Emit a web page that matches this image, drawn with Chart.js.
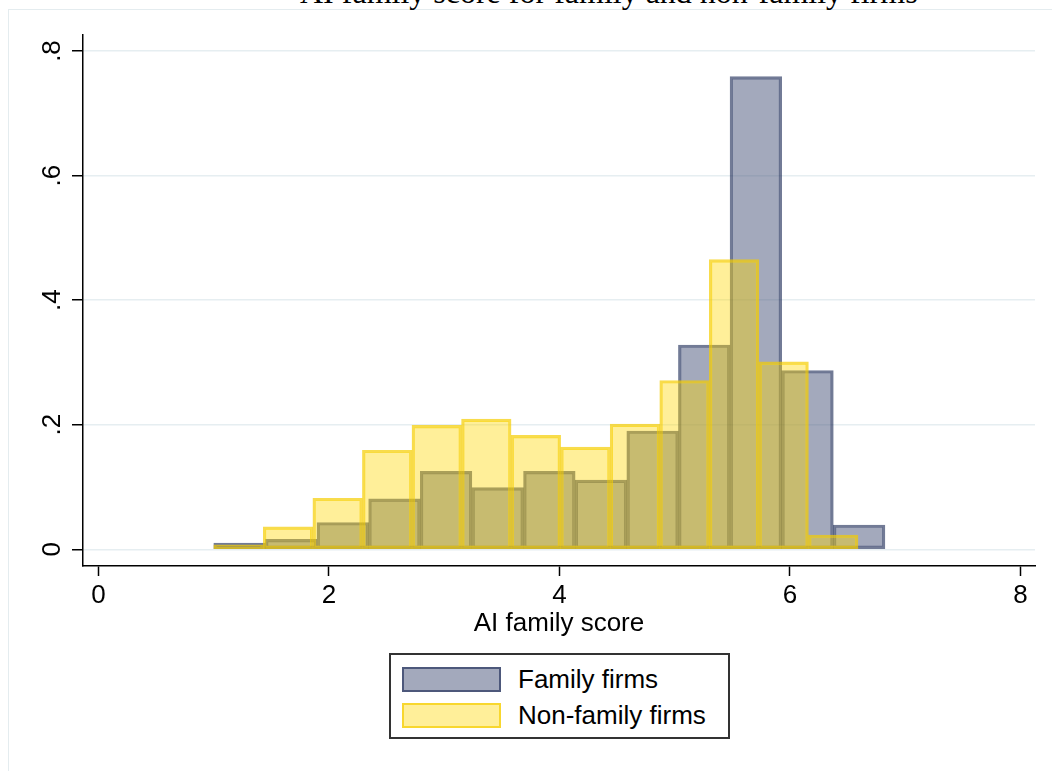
<!DOCTYPE html>
<html>
<head>
<meta charset="utf-8">
<script src="https://cdn.jsdelivr.net/npm/chart.js@4.4.1/dist/chart.umd.min.js"></script>
<style>
  html, body { margin: 0; padding: 0; background: #fff; overflow: hidden; }
  #wrap { position: relative; width: 1052px; height: 771px; overflow: hidden; }
  #frame { position: absolute; left: 8px; top: 9px; width: 1100px; height: 800px;
    border-left: 1px solid #e4ecef; border-top: 1px solid #e4ecef; }
  #title { position: absolute; left: 300px; top: -24px; width: 614px; text-align: center;
    font: 32px/32px "Liberation Serif", "Times New Roman", serif; color: #000; white-space: nowrap; }
  #legend { position: absolute; left: 389px; top: 653px; width: 337px; height: 82px;
    border: 2px solid #333; background: #fff; }
  .item { position: absolute; left: 11px; height: 26px; display: flex; align-items: center;
    font: 26px "Liberation Sans", Arial, sans-serif; color: #000; }
  .sw { width: 95px; height: 21px; border-width: 2.5px; border-style: solid; margin-right: 17px; }
  canvas { position: absolute; left: 0; top: 0; }
</style>
</head>
<body>
<div id="wrap">
  <div id="frame"></div>
  <div id="title">AI family score for family and non-family firms</div>
  <canvas id="hist" width="1052" height="771"></canvas>
  <div id="legend"></div>
</div>
<script>
// Histogram densities (13 bins each)
const familyStart = 1.0;
const familyWidth = 0.448;
const familyDensity = [0.010, 0.016, 0.043, 0.081, 0.125, 0.099, 0.125, 0.111, 0.190, 0.328, 0.759, 0.287, 0.039];

const nonFamilyStart = 1.0;
const nonFamilyWidth = 0.43;
const nonFamilyDensity = [0.007, 0.036, 0.082, 0.159, 0.199, 0.209, 0.183, 0.164, 0.201, 0.271, 0.465, 0.301, 0.023];

const xTicks = [0, 2, 4, 6, 8];
const yTicks = [0, 0.2, 0.4, 0.6, 0.8];
const yTickLabels = ["0", ".2", ".4", ".6", ".8"];

const seriesLabels = ["Family firms", "Non-family firms"];
const fills = ["rgba(72, 84, 122, 0.5)", "rgba(255, 215, 0, 0.4)"];
const strokes = ["rgba(20, 35, 80, 0.6)", "rgba(245, 205, 0, 0.7)"];

function toBins(start, width, values) {
  return values.map(function (v, i) {
    return { x: start + width * (i + 0.5), y: v };
  });
}

const FONT = { family: "'Liberation Sans', Arial, sans-serif", size: 26 };
const X_MIN = -0.1345, X_MAX = 8.126;
const Y_MIN = -0.0268, Y_MAX = 0.8257;

function fixTicks(values) {
  return function (scale) {
    scale.ticks = values.map(function (v) { return { value: v }; });
  };
}

document.addEventListener("DOMContentLoaded", function () {
  Chart.defaults.font.family = FONT.family;
  Chart.defaults.color = "#000";

  new Chart(document.getElementById("hist").getContext("2d"), {
    type: "bar",
    data: {
      datasets: [
        {
          label: seriesLabels[0],
          data: toBins(familyStart, familyWidth, familyDensity),
          xAxisID: "x",
          backgroundColor: fills[0],
          borderColor: strokes[0],
          borderWidth: 2.5,
          borderSkipped: false,
          grouped: false,
          barPercentage: 1,
          categoryPercentage: 1,
          order: 1,
        },
        {
          label: seriesLabels[1],
          data: toBins(nonFamilyStart, nonFamilyWidth, nonFamilyDensity),
          xAxisID: "x2",
          backgroundColor: fills[1],
          borderColor: strokes[1],
          borderWidth: 2.5,
          borderSkipped: false,
          grouped: false,
          barPercentage: 1,
          categoryPercentage: 1,
          order: 0,
        },
      ],
    },
    options: {
      responsive: false,
      animation: false,
      devicePixelRatio: 1,
      layout: { padding: { left: 0, top: 35, right: 17, bottom: 125 } },
      plugins: { legend: { display: false }, tooltip: { enabled: false } },
      scales: {
        x: {
          type: "linear",
          min: X_MIN,
          max: X_MAX,
          offset: false,
          afterBuildTicks: fixTicks(xTicks),
          afterFit: function (s) { s.height = 80; },
          grid: { offset: false, drawOnChartArea: false, drawTicks: true, tickLength: 10, tickColor: "#000", tickWidth: 1.5 },
          border: { display: true, color: "#000", width: 1.5 },
          ticks: { font: FONT, padding: 4, maxRotation: 0, minRotation: 0 },
          title: { display: true, text: "AI family score", font: FONT, padding: { top: 0, bottom: 7 } },
        },
        x2: {
          type: "linear",
          display: false,
          min: X_MIN,
          max: X_MAX,
          offset: false,
          afterBuildTicks: fixTicks(xTicks),
          grid: { offset: false },
        },
        y: {
          type: "linear",
          min: Y_MIN,
          max: Y_MAX,
          afterBuildTicks: fixTicks(yTicks),
          afterFit: function (s) { s.width = 83; },
          grid: { color: "#e6eef1", lineWidth: 1.5, drawTicks: true, tickLength: 11, tickColor: "#000", tickWidth: 1.5 },
          border: { display: true, color: "#000", width: 1.5 },
          ticks: {
            font: FONT,
            padding: 8,
            minRotation: 90,
            maxRotation: 90,
            crossAlign: "center",
            callback: function (v) {
              const i = yTicks.indexOf(v);
              return i >= 0 ? yTickLabels[i] : "";
            },
          },
        },
      },
    },
  });

  // Legend box below the plot
  const legend = document.getElementById("legend");
  seriesLabels.forEach(function (label, i) {
    const item = document.createElement("div");
    item.className = "item";
    item.style.top = (11 + i * 36) + "px";
    const sw = document.createElement("span");
    sw.className = "sw";
    sw.style.background = fills[i];
    sw.style.borderColor = strokes[i];
    const txt = document.createElement("span");
    txt.textContent = label;
    item.appendChild(sw);
    item.appendChild(txt);
    legend.appendChild(item);
  });
});
</script>
</body>
</html>
